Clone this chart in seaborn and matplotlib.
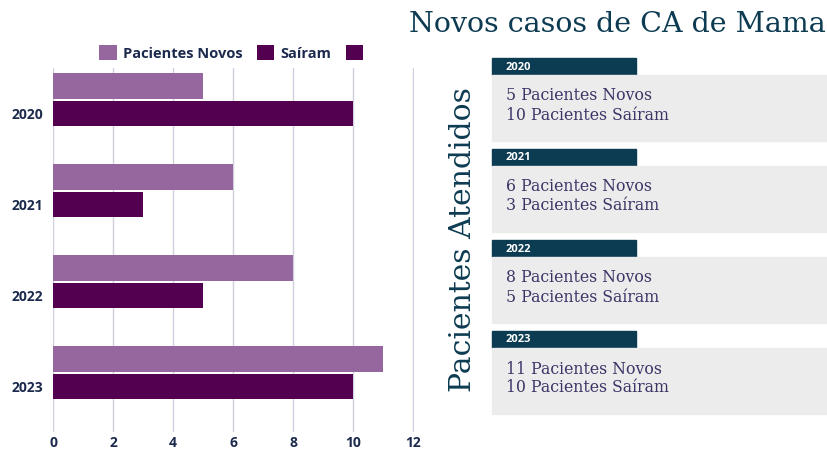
import matplotlib
matplotlib.use("Agg")
import matplotlib.pyplot as plt
import seaborn as sns
import pandas as pd
from matplotlib.patches import Rectangle

# dados
anos = ["2020", "2021", "2022", "2023"]
novos = [5, 6, 8, 11]
sairam = [10, 3, 5, 10]
extra = [0, 0, 0, 0]  # terceira série sem rótulo
series = ["Pacientes Novos", "Saíram", " "]
cores = ["#95679e", "#52004f", "#52004f"]
ticks_x = [0, 2, 4, 6, 8, 10, 12]

titulo = "Novos casos de CA de Mama"
subtitulo = "Pacientes Atendidos"

df = pd.DataFrame({
    "ano": anos * 3,
    "serie": [series[0]] * 4 + [series[1]] * 4 + [series[2]] * 4,
    "valor": novos + sairam + extra,
})

sns.set_theme(style="white")
plt.rcParams["font.family"] = ["Open Sans", "DejaVu Sans"]

fig = plt.figure(figsize=(8.28, 4.51), dpi=100)
W, H = 828, 451
ax = fig.add_axes([53 / W, 1 - 432 / H, (414 - 53) / W, (432 - 68) / H])

sns.barplot(data=df, y="ano", x="valor", hue="serie", hue_order=series,
            palette=cores, orient="h", width=0.92, gap=0.07, saturation=1,
            linewidth=0, ax=ax, legend=True)

ax.set_xlim(0, 12.03)
ax.set_ylim(3.5, -0.5)
ax.set_xticks(ticks_x)
ax.grid(axis="x", color="#cfcfe0", linewidth=1)
ax.set_axisbelow(True)
for s in ax.spines.values():
    s.set_visible(False)
ax.set_xlabel("")
ax.set_ylabel("")
ax.tick_params(length=0, labelsize=10, colors="#1c2a4d")
ax.tick_params(axis="x", pad=3)
ax.tick_params(axis="y", pad=7)
for lab in ax.get_xticklabels() + ax.get_yticklabels():
    lab.set_fontweight("bold")

handles, labels = ax.get_legend_handles_labels()
ax.get_legend().remove()
leg = fig.legend(handles, labels, loc="center", bbox_to_anchor=(236 / W, 1 - 53 / H),
                 ncol=3, frameon=False, handlelength=1.2, handleheight=1.2,
                 handletextpad=0.4, columnspacing=1.0,
                 prop={"family": "Open Sans", "weight": "bold", "size": 10.5})
for t in leg.get_texts():
    t.set_color("#1c2a4d")

# painel da direita
fig.text(826 / W, 1 - 25 / H, titulo, ha="right", va="center",
         family="DejaVu Serif", fontsize=20.5, color="#0d3b52")
fig.text(463 / W, 1 - 240 / H, subtitulo, ha="center", va="center", rotation=90,
         family="DejaVu Serif", fontsize=21.5, color="#0d3b52")

for i, ano in enumerate(anos):
    y0 = 58 + i * 91
    fig.patches.append(Rectangle((492 / W, 1 - (y0 + 17) / H), 144 / W, 17 / H,
                                 transform=fig.transFigure, color="#0b3c52", zorder=1))
    fig.patches.append(Rectangle((492 / W, 1 - (y0 + 83) / H), 336 / W, 66 / H,
                                 transform=fig.transFigure, color="#ececec", zorder=1))
    fig.text(506 / W, 1 - (y0 + 9) / H, ano, ha="left", va="center",
             fontsize=8, fontweight="bold", color="white")
    fig.text(506 / W, 1 - (y0 + 38) / H, f"{novos[i]} Pacientes Novos",
             ha="left", va="center", family="DejaVu Serif", fontsize=11.3, color="#3b3566")
    fig.text(506 / W, 1 - (y0 + 57) / H, f"{sairam[i]} Pacientes Saíram",
             ha="left", va="center", family="DejaVu Serif", fontsize=11.3, color="#3b3566")

fig.savefig("out.png", dpi=100)
